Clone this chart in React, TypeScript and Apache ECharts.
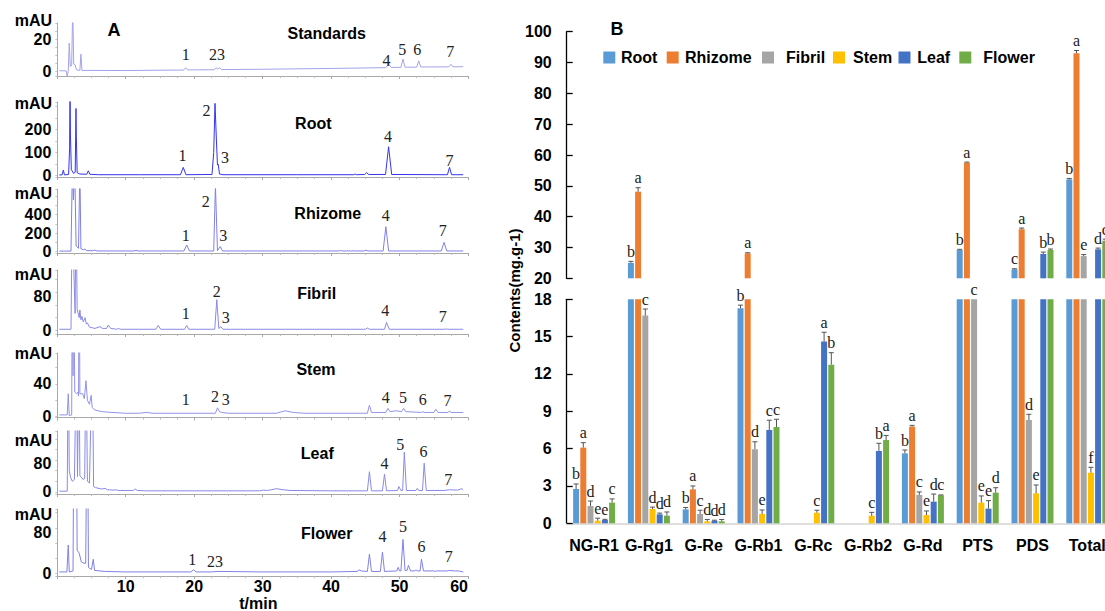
import React, { useEffect, useRef } from 'react';
import * as echarts from 'echarts';

// ---------------- Panel A : chromatograms ----------------
const SAMPLE_NAMES = ['Standards', 'Root', 'Rhizome', 'Fibril', 'Stem', 'Leaf', 'Flower'];
const Y_RANGES = [[-3, 30], [-7, 320], [-16, 680], [-8, 141], [-1.2, 78], [-6, 172], [-5, 127]];
const Y_TICK_LABELS = [[0, 20], [0, 100, 200], [0, 200, 400], [0, 80], [0, 40], [0, 80], [0, 80]];
const TIME_TICKS_MAX = 60;

// [time (min), absorbance (mAU)]
const TRACE_STANDARDS = [[0.3,0.3],[1.3,0.2],[1.45,-3.5],[1.6,0],[1.75,17.5],[1.9,3],[2.1,3.5],[2.25,40],[2.4,4.5],[2.6,4],[2.8,0.8],[3.3,0.5],[3.45,10.6],[3.6,0.5],[10,0.4],[15,0.6],[18.45,0.7],[18.75,2.1],[19.05,0.8],[22.9,0.9],[23.2,2.1],[23.45,1.3],[23.7,2.1],[24,1],[30,1.2],[40,1.7],[48,2.2],[48.4,4.5],[48.8,2.3],[50.2,2.4],[50.5,7.5],[50.8,2.5],[52.5,2.5],[52.8,6.4],[53.1,2.6],[57.2,2.7],[57.5,4.3],[57.8,2.7],[59.3,2.8]];
const TRACE_ROOT = [[0.3,2],[0.7,2],[0.88,23],[1.05,2],[1.65,4],[1.8,120],[1.86,400],[1.92,176],[2.05,25],[2.4,8],[2.62,15],[2.73,292],[2.78,171],[2.9,12],[3.3,6],[4.3,5],[4.53,20],[4.75,5],[6,3],[12,3],[18.0,3],[18.4,35],[18.8,3],[22.6,4],[22.85,100],[23.04,314],[23.25,150],[23.4,45],[23.5,49],[23.7,6],[24.2,3],[35,3],[43.3,3],[43.5,6],[43.7,3],[44.9,4],[45.2,12],[45.5,4],[47.95,4],[48.4,125],[48.85,4],[57,3],[57.3,35],[57.6,3],[59.3,3]];
const TRACE_RHIZOME = [[0.3,5],[2.0,5],[2.2,900],[2.35,560],[2.55,900],[2.75,60],[3.1,35],[3.3,900],[3.45,30],[3.85,20],[4.04,27],[4.3,10],[5.2,8],[5.5,16],[5.8,6],[11.2,6],[11.5,12],[11.8,6],[18.5,6],[18.9,71],[19.3,6],[22.85,6],[23.1,720],[23.4,10],[23.8,53],[24.15,6],[41.1,6],[41.4,10],[41.7,6],[42.3,6],[42.5,8],[42.8,6],[43.0,6],[43.2,9],[43.4,6],[44.8,6],[45.1,14],[45.4,6],[47.6,6],[48.0,270],[48.4,6],[56.1,6],[56.5,100],[56.9,6],[59.3,6]];
const TRACE_FIBRIL = [[0.3,3],[2.0,3],[2.2,300],[2.4,150],[2.6,40],[2.75,300],[2.9,50],[3.2,30],[3.3,48],[3.45,25],[3.6,33],[3.8,20],[4.05,30],[4.25,15],[4.4,18],[4.7,8],[5.5,5],[6.24,9],[6.6,5],[7.2,5],[7.45,13],[7.8,5],[8.7,3],[8.9,5],[9.2,3],[14.4,3],[14.75,12],[15.1,3],[18.6,3],[18.9,12],[19.2,3],[23.0,3],[23.3,72],[23.6,5],[23.9,9],[24.2,3],[45.0,3],[45.3,6],[45.6,3],[47.8,3],[48.1,19],[48.5,3],[56.6,3],[56.8,4],[57,3],[59.3,3]];
const TRACE_STEM = [[0.3,2],[1.45,2],[1.6,28],[1.75,1],[2.1,2],[2.2,200],[2.3,50],[2.4,200],[2.55,30],[2.8,28],[3.0,30],[3.1,25],[3.2,200],[3.3,28],[3.7,28],[3.95,22],[4.19,44],[4.4,20],[4.7,15],[4.95,26],[5.1,11],[5.5,8],[6.5,6],[8,5],[10,4],[12,4],[13,5],[14,4],[20,4],[23.1,4],[23.4,10.6],[23.7,6],[24,5],[25,4],[32,4],[33.3,7],[34.5,5],[36,4],[45.3,4],[45.6,14],[45.9,5],[48,5],[48.3,10],[48.6,6],[49.5,7],[50.3,6],[50.6,10],[50.9,6],[53.2,5],[53.4,6],[53.6,5],[55,5],[55.3,9],[55.6,5],[57.1,5],[57.3,7],[57.5,5],[59.3,5]];
const TRACE_LEAF = [[0.3,2],[1.45,2],[1.6,400],[1.75,60],[1.95,40],[2.2,30],[2.5,35],[2.8,400],[2.95,43],[3.17,400],[3.3,45],[3.5,42],[3.75,35],[4.0,38],[4.19,400],[4.4,30],[4.7,25],[5.12,400],[5.3,15],[5.6,12],[6.5,8],[7.0,10],[7.3,6],[8.4,5],[8.6,6],[8.9,4],[11.1,4],[11.4,8],[11.7,4],[13,3],[20,3],[29.5,3],[30.1,5],[30.6,4],[31.3,6],[32,9],[33,6],[34,4],[40,3],[45.3,3],[45.6,57],[45.9,3],[47.5,3],[47.8,50],[48.1,3],[49.7,4],[49.9,15],[50.2,4],[50.45,4],[50.7,112],[51,4],[52.4,4],[52.6,10],[52.8,4],[53.35,4],[53.6,81],[53.9,4],[56.5,4],[57.3,6],[58.5,5],[59.1,9],[59.3,6]];
const TRACE_FLOWER = [[0.3,3],[1.4,3],[1.6,56],[1.75,3],[2.3,5],[2.45,400],[2.6,300],[2.75,400],[2.9,46],[3.2,40],[3.5,23],[3.9,20],[4.15,20],[4.39,400],[4.55,12],[5.0,8],[5.25,28],[5.45,6],[7,4],[10,3],[19.5,3],[19.9,7],[20.3,3],[22.5,3],[23.5,4],[30,3],[40,3],[43.8,4],[44.1,7],[44.4,5],[45.3,4],[45.6,38],[45.9,4],[47.2,4],[47.5,42],[47.8,4],[49.6,5],[49.8,12],[50.0,5],[50.2,5],[50.5,67],[50.8,6],[51.1,6],[51.3,16],[51.6,5],[52.2,5],[52.4,7],[52.6,5],[53,5],[53.2,28],[53.5,5],[55,5],[55.2,4],[55.4,5],[57,5],[57.3,6],[58,5],[58.6,5],[59.3,3]];
const TRACES = [TRACE_STANDARDS, TRACE_ROOT, TRACE_RHIZOME, TRACE_FIBRIL, TRACE_STEM, TRACE_LEAF, TRACE_FLOWER];

// peak numbers: [text, time, mAU]
const PEAKS_STANDARDS = [['1',18.76,10.1],['23',23.33,10.1],['4',48.1,6.5],['5',50.4,13.8],['6',52.6,13.8],['7',57.4,12]];
const PEAKS_ROOT = [['1',18.3,85],['2',21.8,285],['3',24.5,79],['4',48.3,169],['7',57.3,67]];
const PEAKS_RHIZOME = [['1',18.76,179],['2',21.7,542],['3',24.25,179],['4',48.0,397],['7',56.3,234]];
const PEAKS_FIBRIL = [['1',18.76,38.6],['2',23.3,90.6],['3',24.6,31],['4',47.9,46.3],['7',56.3,32.4]];
const PEAKS_STEM = [['1',18.76,21.5],['2',23.04,24.3],['3',24.6,21.5],['4',48.0,23.6],['5',50.5,23.6],['6',53.4,21.5],['7',57.0,19.4]];
const PEAKS_LEAF = [['4',47.8,80.8],['5',50.1,135],['6',53.5,113.6],['7',57.1,35.6]];
const PEAKS_FLOWER = [['1',19.7,26.6],['23',23.04,23.2],['4',47.5,72.5],['5',50.5,92.2],['6',53.2,52.8],['7',57.2,33.1]];
const PEAKS = [PEAKS_STANDARDS, PEAKS_ROOT, PEAKS_RHIZOME, PEAKS_FIBRIL, PEAKS_STEM, PEAKS_LEAF, PEAKS_FLOWER];

// ---------------- Panel B : contents ----------------
const CATEGORIES = ['NG-R1', 'G-Rg1', 'G-Re', 'G-Rb1', 'G-Rc', 'G-Rb2', 'G-Rd', 'PTS', 'PDS', 'Total'];
const PARTS = ['Root', 'Rhizome', 'Fibril', 'Stem', 'Leaf', 'Flower'];
const ROOT_VALUES = [2.76, 25.0, 1.12, 17.28, 0, 0, 5.62, 29.2, 22.9, 52.1];
const RHIZOME_VALUES = [6.08, 48.1, 2.73, 28.1, 0, 0, 7.77, 57.5, 35.9, 93.0];
const FIBRIL_VALUES = [1.39, 16.69, 0.75, 5.95, 0, 0, 2.28, 18.8, 8.3, 27.2];
const STEM_VALUES = [0.21, 1.15, 0.16, 0.75, 0.85, 0.61, 0.67, 1.66, 2.41, 4.07];
const LEAF_VALUES = [0.27, 0.72, 0.2, 7.5, 14.6, 5.81, 1.74, 1.18, 27.9, 29.4];
const FLOWER_VALUES = [1.66, 0.61, 0.16, 7.74, 12.75, 6.69, 2.25, 2.46, 29.2, 32.2];
const ROOT_ERRORS = [0.4, 0.5, 0.15, 0.25, 0, 0, 0.27, 0.2, 0.2, 0.3];
const RHIZOME_ERRORS = [0.4, 1.3, 0.27, 0.2, 0, 0, 0.1, 0.2, 0.4, 0.9];
const FIBRIL_ERRORS = [0.4, 0.53, 0.3, 0.6, 0, 0, 0.24, 0.2, 0.46, 0.5];
const STEM_ERRORS = [0.2, 0.15, 0.15, 0.32, 0.2, 0.27, 0.32, 0.54, 0.67, 0.43];
const LEAF_ERRORS = [0.05, 0.1, 0.05, 0.78, 0.75, 0.62, 0.61, 0.64, 0.6, 0.4];
const FLOWER_ERRORS = [0.3, 0.3, 0.15, 0.62, 0.96, 0.37, 0.03, 0.4, 0.3, 0.5];
const ROOT_LETTERS = ['b', 'b', 'b', 'b', '', '', 'b', 'b', 'c', 'b'];
const RHIZOME_LETTERS = ['a', 'a', 'a', 'a', '', '', 'a', 'a', 'a', 'a'];
const FIBRIL_LETTERS = ['d', 'c', 'c', 'd', '', '', 'c', 'c', 'd', 'e'];
const STEM_LETTERS = ['e', 'd', 'd', 'e', 'c', 'c', 'e', 'e', 'e', 'f'];
const LEAF_LETTERS = ['e', 'd', 'd', 'c', 'a', 'b', 'd', 'e', 'b', 'd'];
const FLOWER_LETTERS = ['c', 'd', 'd', 'c', 'b', 'a', 'c', 'd', 'b', 'c'];
const UPPER_TICKS = { min: 20, max: 100, interval: 10 };
const LOWER_TICKS = { min: 0, max: 18, interval: 3 };

const VALUES = [ROOT_VALUES, RHIZOME_VALUES, FIBRIL_VALUES, STEM_VALUES, LEAF_VALUES, FLOWER_VALUES];
const ERRORS = [ROOT_ERRORS, RHIZOME_ERRORS, FIBRIL_ERRORS, STEM_ERRORS, LEAF_ERRORS, FLOWER_ERRORS];
const LETTERS = [ROOT_LETTERS, RHIZOME_LETTERS, FIBRIL_LETTERS, STEM_LETTERS, LEAF_LETTERS, FLOWER_LETTERS];
const PART_COLORS = ['#5B9BD5', '#ED7D31', '#A5A5A5', '#FFC000', '#4472C4', '#70AD47'];

// ---------------- layout ----------------
const SANS = "Arial, 'Liberation Sans', sans-serif";
const SERIF = "'Times New Roman', 'Liberation Serif', serif";
const A_LEFT = 57.3;
const A_RIGHT = 468;
const A_TOPS = [23, 102, 189, 270, 353, 431, 509];
const A_AXIS_Y = [76, 177, 253, 334, 417.5, 494, 576];
const TRACE_COLORS = ['#a3a3e8', '#3434ee', '#8080e6', '#8a8ae6', '#9292e8', '#8a8ae6', '#8080e6'];
const TITLE_POS = [[326.7, 33.3], [313.3, 123.3], [327.7, 213.3], [316.7, 293.3], [316, 369.3], [317.3, 453.3], [326.7, 533.3]];
const MAU_Y = [20, 103.3, 193.3, 274.3, 353.3, 440.7, 514];
const B_LEFT = 566.7;
const B_WIDTH = 548;
const UP_TOP = 31.7, UP_BOTTOM_Y = 278.3;
const LO_TOP = 299.3, LO_BOTTOM_Y = 523.3;
const BAR_W = 6, BAR_GAP = 0.2;
const STEP = BAR_W * (1 + BAR_GAP);
const LEGEND_SQ_X = [603.3, 666.7, 762, 833, 898.5, 959.3];
const LEGEND_TX_X = [621, 685, 786, 853, 917.3, 983.3];

function txt(text: string, x: number, y: number, font: string, align = 'center', extra: any = {}) {
  return {
    type: 'text', x, y, silent: true, ...extra,
    style: { text, font, fill: '#000', align, verticalAlign: 'middle', textAlign: align, textVerticalAlign: 'middle' },
  };
}

function buildOption() {
  const grid: any[] = [], xAxis: any[] = [], yAxis: any[] = [], series: any[] = [];
  const graphic: any[] = [];

  TRACES.forEach((trace, i) => {
    grid.push({ left: A_LEFT, width: A_RIGHT - A_LEFT, top: A_TOPS[i], height: A_AXIS_Y[i] - A_TOPS[i], outerBoundsMode: 'none', containLabel: false });
    const isBottom = i === TRACES.length - 1;
    xAxis.push({
      type: 'value', gridIndex: i, min: 0, max: TIME_TICKS_MAX, interval: 10,
      axisLine: { onZero: false, lineStyle: { color: '#a8a8a8', width: 1 } },
      axisTick: { show: true, length: 3, lineStyle: { color: '#a8a8a8' } },
      minorTick: { show: true, splitNumber: 4, length: 2, lineStyle: { color: '#b8b8b8' } },
      splitLine: { show: false }, minorSplitLine: { show: false },
      axisLabel: isBottom
        ? { show: true, showMinLabel: false, alignMaxLabel: 'right', margin: 2, fontSize: 16, fontWeight: 'bold', color: '#000', fontFamily: SANS }
        : { show: false },
    });
    yAxis.push({
      type: 'value', gridIndex: i, min: Y_RANGES[i][0], max: Y_RANGES[i][1],
      axisLine: { show: true, onZero: false, lineStyle: { color: '#a8a8a8', width: 1 } },
      axisTick: { show: true, length: 2, lineStyle: { color: '#c4c4c4' } },
      splitLine: { show: false },
      axisLabel: { customValues: Y_TICK_LABELS[i], fontSize: 16, fontWeight: 'bold', color: '#000', fontFamily: SANS, margin: 6 },
    });
    series.push({
      type: 'line', xAxisIndex: i, yAxisIndex: i, data: trace, showSymbol: false, symbol: 'none',
      lineStyle: { width: 1, color: TRACE_COLORS[i] }, clip: true, silent: true, z: 2,
    });
    const peaks = PEAKS[i];
    series.push({
      type: 'custom', xAxisIndex: i, yAxisIndex: i, silent: true, z: 5,
      data: peaks.map((p) => [p[1], p[2]]),
      renderItem: (params: any, api: any) => {
        const pt = api.coord([api.value(0), api.value(1)]);
        return {
          type: 'text', x: pt[0], y: pt[1],
          style: { text: String(peaks[params.dataIndex][0]), font: `16px ${SERIF}`, fill: '#222', align: 'center', verticalAlign: 'middle', textAlign: 'center', textVerticalAlign: 'middle' },
        };
      },
    });
    graphic.push(txt(SAMPLE_NAMES[i], TITLE_POS[i][0], TITLE_POS[i][1], `bold 16px ${SANS}`));
    graphic.push(txt('mAU', 52, MAU_Y[i], `bold 16px ${SANS}`, 'right'));
  });
  graphic.push(txt('A', 114, 30, `bold 18px ${SANS}`));
  graphic.push(txt('t/min', 258.3, 603.3, `bold 16px ${SANS}`));

  // ---- Panel B ----
  const UP = TRACES.length, LO = TRACES.length + 1;
  grid.push({ left: B_LEFT, width: B_WIDTH, top: UP_TOP, height: UP_BOTTOM_Y - UP_TOP, outerBoundsMode: 'none', containLabel: false });
  grid.push({ left: B_LEFT, width: B_WIDTH, top: LO_TOP, height: LO_BOTTOM_Y - LO_TOP, outerBoundsMode: 'none', containLabel: false });
  xAxis.push({ type: 'category', gridIndex: UP, data: CATEGORIES, show: false });
  xAxis.push({
    type: 'category', gridIndex: LO, data: CATEGORIES,
    axisLine: { onZero: false, lineStyle: { color: '#d4d4d4', width: 1.5 } },
    axisTick: { show: false },
    axisLabel: { interval: 0, margin: 14, fontSize: 16, fontWeight: 'bold', color: '#000', fontFamily: SANS },
  });
  const yCommon = {
    type: 'value',
    axisLine: { show: true, onZero: false, lineStyle: { color: '#000', width: 1.3 } },
    axisTick: { show: true, inside: true, length: 6, lineStyle: { color: '#000', width: 1.3 } },
    splitLine: { show: false },
    axisLabel: { margin: 15, fontSize: 16, fontWeight: 'bold', color: '#000', fontFamily: SANS },
  };
  yAxis.push({ ...yCommon, gridIndex: UP, ...UPPER_TICKS });
  yAxis.push({ ...yCommon, gridIndex: LO, ...LOWER_TICKS });

  PARTS.forEach((name, si) => {
    const common = { type: 'bar', name, barWidth: BAR_W, barGap: `${BAR_GAP * 100}%`, silent: true, clip: true, itemStyle: { color: PART_COLORS[si] } };
    series.push({ ...common, xAxisIndex: UP, yAxisIndex: UP, data: VALUES[si].map((v) => (v >= UPPER_TICKS.min ? v : '-')) });
    series.push({ ...common, xAxisIndex: LO, yAxisIndex: LO, data: VALUES[si] });
  });

  const items: any[] = [];
  PARTS.forEach((_, si) => CATEGORIES.forEach((_, ci) => {
    items.push({ si, ci, v: VALUES[si][ci], e: ERRORS[si][ci], l: LETTERS[si][ci] });
  }));

  const errRender = (upper: boolean) => (params: any, api: any) => {
    const it = items[params.dataIndex];
    if (upper && it.v < UPPER_TICKS.min) return null;
    if (!upper && it.v >= UPPER_TICKS.min) return null;
    if (!it.v && !it.l) return null;
    const cx = api.coord([it.ci, 0])[0];
    const x = cx + (it.si - 2.5) * STEP;
    const children: any[] = [];
    let topY: number;
    if (!upper && it.v > LOWER_TICKS.max) {
      topY = api.coord([it.ci, LOWER_TICKS.max])[1];
    } else {
      const y0 = api.coord([it.ci, it.v])[1];
      const y1 = api.coord([it.ci, it.v + it.e])[1];
      topY = Math.min(y0, y1);
      if (it.e > 0) {
        const st = { stroke: '#555', lineWidth: 1 };
        children.push({ type: 'line', shape: { x1: x, y1: y0, x2: x, y2: y1 }, style: st });
        children.push({ type: 'line', shape: { x1: x - 2.5, y1: y1, x2: x + 2.5, y2: y1 }, style: st });
      }
    }
    if (it.l) {
      children.push({
        type: 'text', x, y: topY - 10,
        style: { text: it.l, font: `16px ${SERIF}`, fill: '#222', align: 'center', verticalAlign: 'middle', textAlign: 'center', textVerticalAlign: 'middle' },
      });
    }
    return { type: 'group', children };
  };
  series.push({
    type: 'custom', xAxisIndex: UP, yAxisIndex: UP, silent: true, z: 10,
    data: items.map((it) => [it.ci, Math.max(UPPER_TICKS.min, it.v)]), renderItem: errRender(true),
  });
  series.push({
    type: 'custom', xAxisIndex: LO, yAxisIndex: LO, silent: true, z: 10,
    data: items.map((it) => [it.ci, Math.min(LOWER_TICKS.max, it.v)]), renderItem: errRender(false),
  });

  graphic.push(txt('B', 617, 29, `bold 18px ${SANS}`));
  graphic.push(txt('Contents(mg.g-1)', 514.5, 290.5, `bold 15px ${SANS}`, 'center', { rotation: Math.PI / 2 }));
  PARTS.forEach((name, si) => {
    graphic.push({ type: 'rect', silent: true, shape: { x: LEGEND_SQ_X[si], y: 51.5, width: 12, height: 12 }, style: { fill: PART_COLORS[si] } });
    graphic.push(txt(name, LEGEND_TX_X[si], 57.5, `bold 16px ${SANS}`, 'left'));
  });

  return {
    animation: false,
    backgroundColor: '#fff',
    textStyle: { fontFamily: SANS },
    grid, xAxis, yAxis, series, graphic,
  };
}

export default function App() {
  const ref = useRef<HTMLDivElement>(null);
  useEffect(() => {
    const chart = echarts.init(ref.current as HTMLDivElement, null, { renderer: 'svg' });
    chart.setOption(buildOption() as any);
    return () => chart.dispose();
  }, []);
  return (
    <div
      ref={ref}
      style={{ position: 'fixed', left: 0, top: 0, width: 1105, height: 611, background: '#fff', overflow: 'hidden' }}
    />
  );
}
